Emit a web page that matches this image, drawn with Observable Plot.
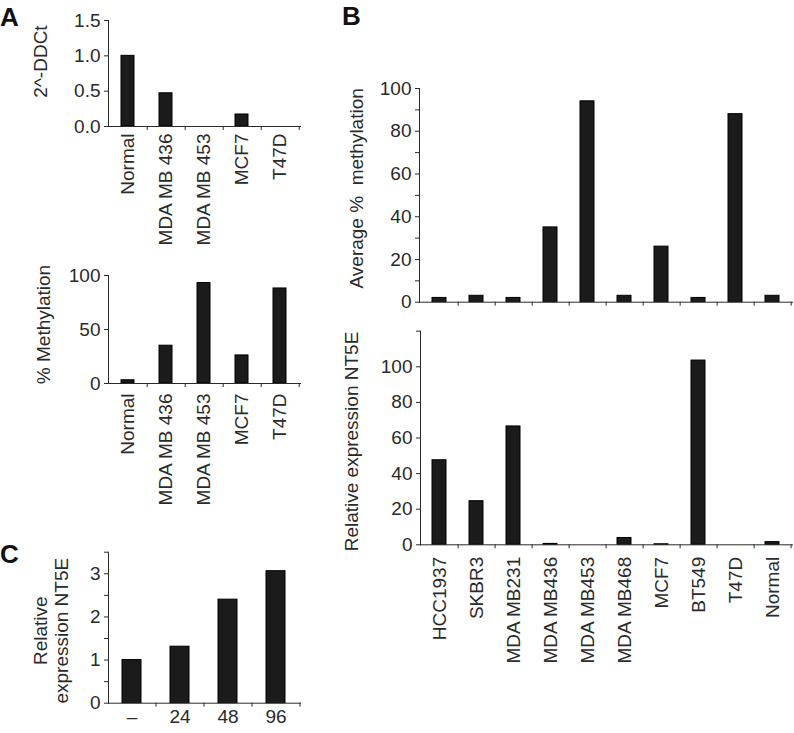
<!DOCTYPE html>
<html><head><meta charset="utf-8">
<script src="https://cdn.jsdelivr.net/npm/d3@7"></script>
<script src="https://cdn.jsdelivr.net/npm/@observablehq/plot@0.6"></script>
<style>
body{margin:0;background:#fff;}
#fig{position:relative;width:794px;height:733px;overflow:hidden;font-family:"Liberation Sans",Arial,Helvetica,sans-serif;background:#fff;}
.panel{position:absolute;}
.letter{position:absolute;font-weight:bold;font-size:26px;color:#111;line-height:1;font-family:"Liberation Sans",Arial,sans-serif;}
</style></head><body><div id="fig"></div>
<script>
// ---- data ----
const catsA = ["Normal", "MDA MB 436", "MDA MB 453", "MCF7", "T47D"];
const ddctA = [1.0, 0.47, 0, 0.17, 0];
const methA = [3, 35, 93, 26, 88];
const catsB = ["HCC1937", "SKBR3", "MDA MB231", "MDA MB436", "MDA MB453", "MDA MB468", "MCF7", "BT549", "T47D", "Normal"];
const methB = [2, 3, 2, 35, 94, 3, 26, 2, 88, 3];
const exprB = [47.5, 24.5, 66.5, 0.5, 0, 3.8, 0.3, 103.5, 0, 1.5];
const catsC = ["–", "24", "48", "96"];
const exprC = [1.0, 1.31, 2.4, 3.06];
const ticksA1 = [0, 0.5, 1.0, 1.5];
const ticksA2 = [0, 50, 100];
const ticksB1 = d3.range(0, 101, 10);
const ticksB2 = d3.range(0, 121, 20);
const ticksC = d3.range(0, 3.51, 0.5);
const titles = {
  a1: "2^-DDCt",
  a2: "% Methylation",
  b1: "Average %  methylation",
  b2: "Relative expression NT5E",
  c: "Relative\nexpression NT5E"
};

const fig = document.getElementById("fig");
const FS = 19;

function panel(o) {
  const data = o.cats.map((k, i) => ({k, v: o.vals[i]}));
  const step = (o.width - o.ml - o.mr) / o.cats.length;
  const p = o.pad;
  const marks = [
    Plot.barY(data, {x: "k", y: "v", fill: "#1b1b1b", stroke: "#000", strokeWidth: 1}),
    Plot.frame({anchor: "left", stroke: "#2a2a2a"}),
    Plot.frame({anchor: "bottom", stroke: "#2a2a2a"}),
    Plot.axisY({ticks: o.yTicks, tickFormat: o.yFormat, tickSize: 4, tickPadding: 4, label: null, fontSize: FS}),
    Plot.axisX({tickSize: 4, tickFormat: () => "", dx: step / 2, label: null}),
    Plot.text([o.title], {frameAnchor: "left", textAnchor: "middle", lineAnchor: "middle", rotate: -90, dx: o.tdx, dy: o.tdy, fontSize: FS, lineHeight: 1.1})
  ];
  if (o.showLabels !== false) {
    marks.push(Plot.axisX({tickSize: 0, tickPadding: o.labelPad, tickRotate: o.rotate ? -90 : 0, label: null, fontSize: FS}));
  }
  const chart = Plot.plot({
    width: o.width, height: o.height,
    marginLeft: o.ml, marginRight: o.mr, marginTop: o.mt, marginBottom: o.mb,
    style: {fontSize: FS + "px", fontFamily: "'Liberation Sans', Arial, sans-serif", color: "#2a2a2a", background: "transparent", overflow: "visible"},
    x: {domain: o.cats, paddingInner: p, paddingOuter: p / 2},
    y: {domain: o.yDomain, nice: false},
    marks
  });
  chart.classList.add("panel");
  chart.style.left = o.left + "px";
  chart.style.top = o.top + "px";
  fig.appendChild(chart);
}

// Panel A (top)
panel({cats: catsA, vals: ddctA, left: 0, top: 0, width: 320, height: 260,
  ml: 108, mr: 20, mt: 20, mb: 134, pad: 0.65,
  yDomain: [0, 1.5], yTicks: ticksA1, yFormat: d3.format(".1f"),
  labelPad: 7, rotate: true, title: titles.a1, tdx: -68, tdy: -12});
// Panel A (bottom)
panel({cats: catsA, vals: methA, left: 0, top: 260, width: 320, height: 260,
  ml: 108, mr: 20, mt: 15, mb: 137, pad: 0.65,
  yDomain: [0, 100], yTicks: ticksA2, yFormat: d => d,
  labelPad: 10, rotate: true, title: titles.a2, tdx: -65, tdy: -5});
// Panel C
panel({cats: catsC, vals: exprC, left: 0, top: 530, width: 320, height: 203,
  ml: 108, mr: 20, mt: 21.7, mb: 30.3, pad: 0.6,
  yDomain: [0, 3.5], yTicks: ticksC, yFormat: d => Number.isInteger(d) ? d : "",
  labelPad: 6, rotate: false, title: titles.c, tdx: -58, tdy: 3});
// Panel B (top)
panel({cats: catsB, vals: methB, left: 310, top: 60, width: 484, height: 260,
  ml: 109, mr: 2, mt: 28, mb: 18.3, pad: 0.62,
  yDomain: [0, 100], yTicks: ticksB1, yFormat: d => d % 20 === 0 ? d : "",
  showLabels: false, title: titles.b1, tdx: -63, tdy: -7});
// Panel B (bottom)
panel({cats: catsB, vals: exprB, left: 310, top: 320, width: 484, height: 413,
  ml: 110, mr: 2, mt: 10.7, mb: 188.7, pad: 0.62,
  yDomain: [0, 120], yTicks: ticksB2, yFormat: d => d <= 100 ? d : "",
  labelPad: 12, rotate: true, title: titles.b2, tdx: -69, tdy: 3.5});

// panel letters
[["A", 0, 4], ["B", 342, 3], ["C", 0, 541]].forEach(([t, x, y]) => {
  const el = document.createElement("div");
  el.className = "letter";
  el.textContent = t;
  el.style.left = x + "px";
  el.style.top = y + "px";
  fig.appendChild(el);
});
</script>
</body></html>
